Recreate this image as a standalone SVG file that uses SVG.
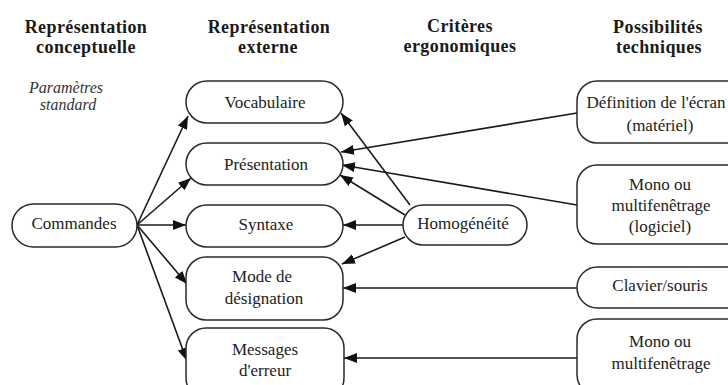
<svg xmlns="http://www.w3.org/2000/svg" width="728" height="385" viewBox="0 0 728 385">
<defs>
<marker id="arr" markerUnits="userSpaceOnUse" markerWidth="13" markerHeight="10" refX="13" refY="5" orient="auto">
<path d="M0,0 L13,5 L0,10 z" fill="#111"/>
</marker>
<style>
text{font-family:'Liberation Serif','Times New Roman','DejaVu Serif',serif}
.hd{font-weight:bold;font-size:18px;letter-spacing:0.4px;fill:#1a1a1a;text-anchor:middle}
.it{font-style:italic;font-size:16px;fill:#333;text-anchor:middle}
.box{fill:#fff;stroke:#2a2a2a;stroke-width:1.5}
.t{font-size:17px;fill:#222;text-anchor:middle}
.ca{stroke:#1a1a1a;stroke-width:1.6;fill:none;marker-end:url(#arr)}
</style>
</defs>
<rect width="728" height="385" fill="#fff"/>
<g id="headers" font-family="Liberation Serif, serif">
<text class="hd" x="86" y="33">Représentation</text>
<text class="hd" x="86" y="53">conceptuelle</text>
<text class="hd" x="269" y="33">Représentation</text>
<text class="hd" x="268" y="53">externe</text>
<text class="hd" x="460" y="32">Critères</text>
<text class="hd" x="460" y="52">ergonomiques</text>
<text class="hd" x="658" y="33">Possibilités</text>
<text class="hd" x="659" y="53">techniques</text>
<text class="it" x="66" y="93">Paramètres</text>
<text class="it" x="68" y="110">standard</text>
</g>
<g id="connectors">
<line class="ca" x1="137" y1="225" x2="188" y2="116"/>
<line class="ca" x1="137" y1="225" x2="191" y2="178"/>
<line class="ca" x1="137" y1="225" x2="186" y2="225"/>
<line class="ca" x1="137" y1="225" x2="187" y2="284"/>
<line class="ca" x1="137" y1="225" x2="187" y2="361"/>
<line class="ca" x1="410" y1="205" x2="341" y2="113"/>
<line class="ca" x1="405" y1="215" x2="340" y2="175"/>
<line class="ca" x1="403" y1="225" x2="343" y2="225"/>
<line class="ca" x1="405" y1="237" x2="342" y2="264"/>
<line class="ca" x1="577" y1="113" x2="341" y2="152"/>
<line class="ca" x1="577" y1="205" x2="342" y2="165"/>
<line class="ca" x1="577" y1="288" x2="343" y2="288"/>
<line class="ca" x1="577" y1="358" x2="344" y2="358"/>
</g>
<g id="commandes">
<rect class="box" x="12" y="204" width="125" height="43" rx="21.5"/>
<text class="t" x="74" y="229">Commandes</text>
</g>
<g id="vocabulaire">
<rect class="box" x="186" y="81" width="157" height="42" rx="21"/>
<text class="t" x="265" y="108">Vocabulaire</text>
</g>
<g id="presentation">
<rect class="box" x="186" y="143" width="157" height="42" rx="21"/>
<text class="t" x="266" y="170">Présentation</text>
</g>
<g id="syntaxe">
<rect class="box" x="186" y="205" width="157" height="42" rx="21"/>
<text class="t" x="266" y="230">Syntaxe</text>
</g>
<g id="mode">
<rect class="box" x="186" y="257" width="157" height="63" rx="20"/>
<text class="t" x="262" y="282">Mode de</text>
<text class="t" x="264" y="304">désignation</text>
</g>
<g id="messages">
<rect class="box" x="186" y="328" width="158" height="70" rx="20"/>
<text class="t" x="265" y="355">Messages</text>
<text class="t" x="265" y="376">d'erreur</text>
</g>
<g id="homogeneite">
<rect class="box" x="403" y="205" width="124" height="40" rx="20"/>
<text class="t" x="463" y="229">Homogénéité</text>
</g>
<g id="definition">
<rect class="box" x="577" y="81" width="170" height="62" rx="20"/>
<text class="t" x="656" y="108" font-size="16.5">Définition de l'écran</text>
<text class="t" x="660" y="131">(matériel)</text>
</g>
<g id="mono-logiciel">
<rect class="box" x="577" y="165" width="170" height="79" rx="20"/>
<text class="t" x="660" y="190">Mono ou</text>
<text class="t" x="661" y="211">multifenêtrage</text>
<text class="t" x="660" y="232">(logiciel)</text>
</g>
<g id="clavier">
<rect class="box" x="577" y="267" width="170" height="41" rx="20.5"/>
<text class="t" x="660" y="291">Clavier/souris</text>
</g>
<g id="mono">
<rect class="box" x="577" y="319" width="170" height="76" rx="20"/>
<text class="t" x="660" y="347">Mono ou</text>
<text class="t" x="661" y="369">multifenêtrage</text>
</g>
</svg>
